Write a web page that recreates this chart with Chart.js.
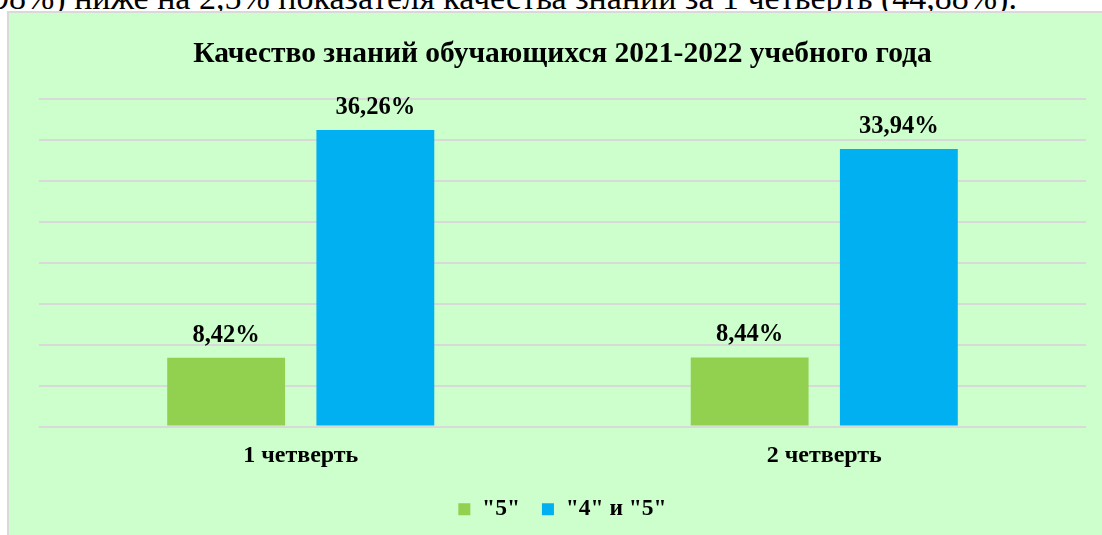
<!DOCTYPE html>
<html lang="ru">
<head>
<meta charset="utf-8">
<title>Качество знаний</title>
<script src="https://cdn.jsdelivr.net/npm/chart.js@4/dist/chart.umd.min.js"></script>
<style>
  html, body { margin: 0; padding: 0; background: #fff; overflow: hidden; }
  body { width: 1102px; height: 535px; position: relative; }
  .tekst {
    position: absolute; left: -8px; top: -19px;
    font: 34px/34px "Liberation Serif", "Times New Roman", serif;
    color: #000; white-space: nowrap;
  }
  .ramka {
    position: absolute; left: 7px; top: 11px; width: 1095px; height: 524px;
    background: #ccffcc; border-top: 2px solid #d9d9d9; border-left: 2px solid #d9d9d9;
    box-sizing: border-box;
  }
  .ramka canvas { position: absolute; left: 0; top: 0; }
</style>
</head>
<body>
<div class="tekst">98%) ниже на 2,5% показателя качества знаний за 1 четверть (44,88%).</div>
<div class="ramka"><canvas id="graf" width="1093" height="522"></canvas></div>
<script>
// ---------- данные ----------
const kategorii = ["1 четверть", "2 четверть"];
const nazvaniya = ['"5"', '"4" и "5"'];
const tolkoPyat = [8.42, 8.44];
const chetyrePyat = [36.26, 33.94];
const tsveta = ["#92d050", "#00b0f0"];

const SHRIFT = '"Liberation Serif", "Times New Roman", serif';

// подписи над столбцами
const podpisi = {
  id: "podpisi",
  afterDatasetsDraw(chart) {
    const ctx = chart.ctx;
    ctx.save();
    ctx.font = "bold 24.5px " + SHRIFT;
    ctx.fillStyle = "#000";
    ctx.textAlign = "center";
    ctx.textBaseline = "alphabetic";
    chart.data.datasets.forEach((ds, i) => {
      chart.getDatasetMeta(i).data.forEach((el, j) => {
        const txt = ds.data[j].toFixed(2).replace(".", ",") + "%";
        ctx.fillText(txt, el.x, el.y - 16);
      });
    });
    ctx.restore();
  },
};

new Chart(document.getElementById("graf"), {
  type: "bar",
  data: {
    labels: kategorii,
    datasets: [
      { label: nazvaniya[0], data: tolkoPyat, backgroundColor: tsveta[0] },
      { label: nazvaniya[1], data: chetyrePyat, backgroundColor: tsveta[1] },
    ],
  },
  options: {
    responsive: false,
    animation: false,
    barPercentage: 0.79,
    categoryPercentage: 0.57,
    layout: { padding: { left: 30, right: 16, top: 0, bottom: 4 } },
    plugins: {
      title: {
        display: true,
        text: "Качество знаний обучающихся 2021-2022 учебного года",
        color: "#000",
        font: { family: SHRIFT, size: 29.5, weight: "bold" },
        padding: { top: 24, bottom: 27 },
      },
      legend: {
        position: "bottom",
        labels: {
          color: "#000",
          boxWidth: 12,
          boxHeight: 12,
          padding: 22,
          font: { family: SHRIFT, size: 23.5, weight: "bold" },
        },
      },
      tooltip: { enabled: false },
    },
    scales: {
      x: {
        grid: { display: false },
        border: { display: false },
        ticks: { color: "#000", padding: 7, font: { family: SHRIFT, size: 24, weight: "bold" } },
        // фиксированная высота оси, чтобы легенда стояла как в оригинале
        afterFit(scale) { scale.height = 49; },
      },
      y: {
        min: 0,
        max: 40,
        ticks: { display: false, stepSize: 5 },
        grid: { color: "#d9d9d9", lineWidth: 2, drawTicks: false },
        border: { display: false },
      },
    },
  },
  plugins: [podpisi],
});
</script>
</body>
</html>
